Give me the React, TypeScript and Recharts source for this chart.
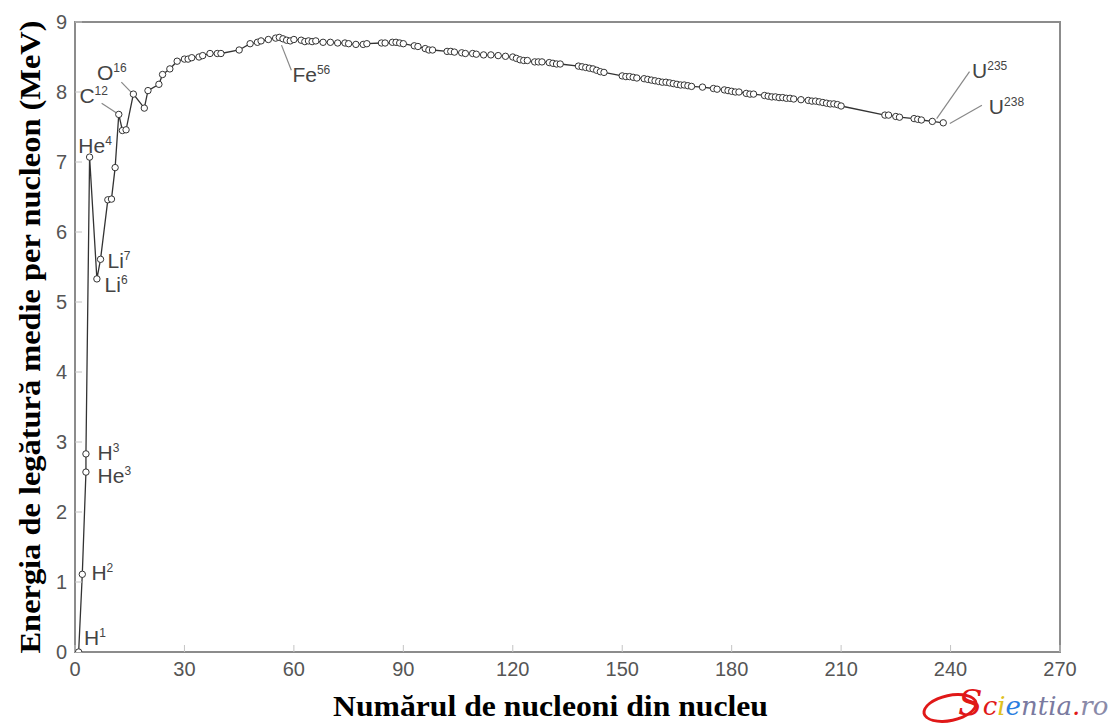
import {
  LineChart,
  Line,
  XAxis,
  YAxis,
  ReferenceArea,
  ReferenceDot,
  ReferenceLine,
} from "recharts";

// mass number A and binding energy per nucleon (MeV)
const nucleonNumbers = [
  1, 2, 3, 3, 4, 6, 7, 9, 10, 11, 12, 13, 14, 16, 19, 20, 23, 24, 26, 28,
  30, 31, 32, 34, 35, 37, 39, 40, 45, 48, 50, 51, 53, 55, 56, 57, 58, 59, 60, 62,
  63, 64, 65, 66, 68, 70, 72, 74, 75, 77, 79, 80, 84, 85, 87, 88, 89, 90, 93, 94,
  96, 97, 98, 102, 103, 104, 106, 107, 109, 110, 112, 114, 116, 118, 120, 121, 122, 123, 124, 126,
  127, 128, 130, 131, 132, 133, 138, 139, 140, 141, 142, 143, 144, 145, 150, 151, 152, 153, 154, 156,
  157, 158, 159, 160, 161, 162, 163, 164, 165, 166, 167, 168, 169, 172, 175, 176, 178, 179, 180, 181,
  182, 184, 185, 186, 189, 190, 191, 192, 193, 194, 195, 196, 197, 199, 201, 202, 203, 204, 205, 206,
  207, 208, 209, 210, 222, 223, 225, 226, 230, 231, 232, 235, 238,
];

const bindingEnergies = [
  0.0, 1.11, 2.57, 2.83, 7.07, 5.33, 5.61, 6.46, 6.47, 6.92, 7.68, 7.45, 7.46, 7.97, 7.77, 8.02, 8.11, 8.25, 8.33, 8.44,
  8.47, 8.47, 8.49, 8.5, 8.52, 8.55, 8.55, 8.55, 8.6, 8.69, 8.71, 8.73, 8.75, 8.77, 8.78, 8.76, 8.74, 8.73, 8.75, 8.74,
  8.72, 8.73, 8.72, 8.73, 8.71, 8.71, 8.7, 8.7, 8.69, 8.68, 8.68, 8.69, 8.7, 8.7, 8.71, 8.71, 8.7, 8.69, 8.66, 8.65,
  8.62, 8.6, 8.6, 8.58, 8.58, 8.57, 8.56, 8.55, 8.55, 8.54, 8.53, 8.53, 8.52, 8.51, 8.5, 8.48, 8.46, 8.45, 8.45, 8.43,
  8.43, 8.43, 8.42, 8.41, 8.4, 8.4, 8.37, 8.36, 8.35, 8.34, 8.33, 8.31, 8.29, 8.28, 8.23, 8.22, 8.22, 8.21, 8.2, 8.19,
  8.18, 8.17, 8.16, 8.15, 8.14, 8.14, 8.13, 8.12, 8.11, 8.1, 8.1, 8.09, 8.08, 8.07, 8.05, 8.04, 8.03, 8.02, 8.01, 8.0,
  8.0, 7.98, 7.97, 7.97, 7.95, 7.94, 7.93, 7.93, 7.92, 7.92, 7.91, 7.91, 7.9, 7.89, 7.88, 7.87, 7.87, 7.86, 7.85, 7.84,
  7.83, 7.83, 7.82, 7.8, 7.67, 7.67, 7.65, 7.64, 7.62, 7.61, 7.6, 7.58, 7.56,
];

const xTicks = [0, 30, 60, 90, 120, 150, 180, 210, 240, 270];
const yTicks = [0, 1, 2, 3, 4, 5, 6, 7, 8, 9];

// isotope names, drawn at the given (A, MeV) baseline
const isotopeSymbols = ["H", "H", "H", "He", "He", "Li", "Li", "C", "O", "Fe", "U", "U"];
const isotopeMasses = ["1", "2", "3", "3", "4", "7", "6", "12", "16", "56", "235", "238"];
const labelA = [2.5, 4.5, 6.2, 6.2, 0.9, 8.9, 8.1, 1.2, 6.0, 59.6, 245.9, 250.5];
const labelE = [0.1, 1.03, 2.74, 2.41, 7.13, 5.49, 5.14, 7.84, 8.17, 8.14, 8.2, 7.69];

// leader lines: [fromA, fromE, toA, toE]
const leaders = [
  [7.3, 7.84, 11.4, 7.7],
  [12.7, 8.14, 15.5, 7.99],
  [56.6, 8.67, 59.3, 8.31],
  [236.2, 7.62, 245.2, 8.29],
  [239.8, 7.55, 248.6, 7.81],
];

const data = nucleonNumbers.map((a, i) => ({ a, e: bindingEnergies[i] }));

const isoLabel = (sym: string, mass: string) => (p: any) => {
  const vb = p.viewBox || {};
  return (
    <text
      x={vb.x}
      y={vb.y}
      fill="#444"
      fontFamily="Liberation Sans, Arial, sans-serif"
      fontSize={21}
    >
      {sym}
      <tspan fontSize={12} dy={-8}>
        {mass}
      </tspan>
    </text>
  );
};

const XTitle = (p: any) => {
  const vb = p.viewBox;
  return (
    <text
      x={vb.x + vb.width / 2 - 17}
      y={vb.y + 64}
      textAnchor="middle"
      fontFamily="Liberation Serif, Times New Roman, serif"
      fontWeight="bold"
      fontSize={29}
      textLength={435}
      lengthAdjust="spacingAndGlyphs"
      fill="#000"
    >
      Numărul de nucleoni din nucleu
    </text>
  );
};

const YTitle = (p: any) => {
  const vb = p.viewBox;
  const cx = 40;
  const cy = vb.y + vb.height / 2;
  return (
    <text
      x={cx}
      y={cy}
      transform={`rotate(-90 ${cx} ${cy})`}
      textAnchor="middle"
      fontFamily="Liberation Serif, Times New Roman, serif"
      fontWeight="bold"
      fontSize={29}
      textLength={633}
      lengthAdjust="spacingAndGlyphs"
      fill="#000"
    >
      Energia de legătură medie per nucleon (MeV)
    </text>
  );
};

function Logo() {
  return (
    <div
      style={{
        position: "absolute",
        left: 918,
        top: 684,
        width: 195,
        height: 38,
        fontFamily: "DejaVu Serif, serif",
        fontStyle: "italic",
        whiteSpace: "nowrap",
      }}
    >
      <div
        style={{
          position: "absolute",
          left: 4,
          top: 10,
          width: 50,
          height: 22,
          border: "3px solid #e01818",
          borderRadius: "50%",
          transform: "rotate(-12deg)",
        }}
      />
      <span style={{ position: "absolute", left: 40, top: -2, fontSize: 36, color: "#e01818" }}>
        S
        <span style={{ fontSize: 26, color: "#e01818" }}>c</span>
        <span style={{ fontSize: 26, color: "#e0c020" }}>i</span>
        <span style={{ fontSize: 26, color: "#2a7de0" }}>e</span>
        <span style={{ fontSize: 26, color: "#7a7aa0" }}>ntia</span>
        <span style={{ fontSize: 26, color: "#e01818" }}>.</span>
        <span style={{ fontSize: 26, color: "#8a8aa8" }}>ro</span>
      </span>
    </div>
  );
}

export default function App() {
  const tickStyle = {
    fill: "#555",
    fontSize: 20,
    fontFamily: "Liberation Sans, Arial, sans-serif",
  };
  return (
    <div
      style={{
        position: "absolute",
        left: 0,
        top: 0,
        width: 1115,
        height: 723,
        background: "#fff",
      }}
    >
      <LineChart
        width={1115}
        height={723}
        data={data}
        margin={{ top: 22, right: 55, left: 0, bottom: 0 }}
      >
        <XAxis
          dataKey="a"
          type="number"
          domain={[0, 270]}
          ticks={xTicks}
          allowDataOverflow
          height={71}
          axisLine={false}
          tickSize={-7}
          tickMargin={17}
          tickLine={{ stroke: "#c4c4c4" }}
          tick={tickStyle}
          label={{ content: XTitle }}
        />
        <YAxis
          type="number"
          domain={[0, 9]}
          ticks={yTicks}
          allowDataOverflow
          width={75}
          axisLine={false}
          tickSize={-7}
          tickMargin={15}
          tickLine={{ stroke: "#c4c4c4" }}
          tick={tickStyle}
          label={{ content: YTitle }}
        />
        <ReferenceArea
          x1={0}
          x2={270}
          y1={0}
          y2={9}
          fill="none"
          stroke="#8c8c8c"
          strokeWidth={2}
        />
        {leaders.map((l, i) => (
          <ReferenceLine
            key={`ld${i}`}
            segment={[
              { x: l[0], y: l[1] },
              { x: l[2], y: l[3] },
            ]}
            stroke="#888"
            strokeWidth={1.2}
          />
        ))}
        <Line
          type="linear"
          dataKey="e"
          stroke="#333"
          strokeWidth={1.3}
          dot={{ r: 3.2, stroke: "#333", strokeWidth: 1, fill: "#fff" }}
          isAnimationActive={false}
        />
        {isotopeSymbols.map((s, i) => (
          <ReferenceDot
            key={`lb${i}`}
            x={labelA[i]}
            y={labelE[i]}
            r={0}
            stroke="none"
            fill="none"
            label={{ content: isoLabel(s, isotopeMasses[i]) }}
          />
        ))}
      </LineChart>
      <Logo />
    </div>
  );
}
